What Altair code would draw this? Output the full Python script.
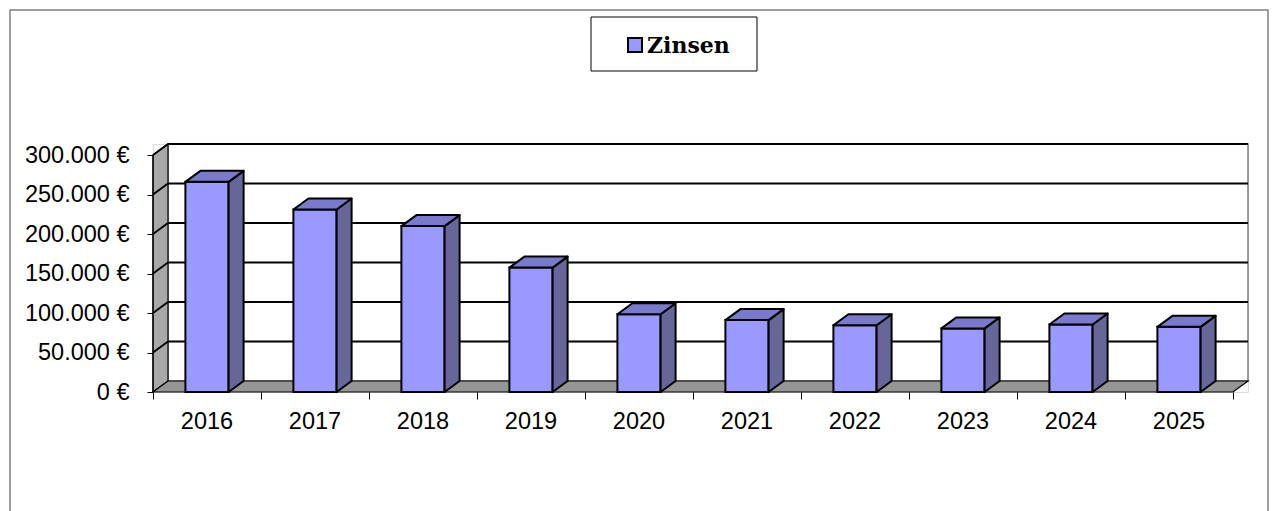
import altair as alt
import pandas as pd

# ---- data ----
years = ["2016", "2017", "2018", "2019", "2020", "2021", "2022", "2023", "2024", "2025"]
zinsen = [266000, 231000, 210000, 157500, 98500, 91000, 84500, 80500, 85500, 82500]
y_ticks = [0, 50000, 100000, 150000, 200000, 250000, 300000]
series_name = "Zinsen"

# ---- style / geometry constants ----
N = len(years)
W, H = 1095, 248
PX_PER_CAT = 108.0
DX = 15 / PX_PER_CAT                 # depth offset in category units
Y_TOP = y_ticks[-1]
YMAX = Y_TOP * H / 237.0
DY = YMAX - Y_TOP                    # depth offset in value units
BAR_L, BAR_R = 0.3, 0.7

FRONT = "#9999ff"
SIDE = "#666699"
TOP = "#7a7acc"
WALL = "#a8a8a8"
FLOOR = "#969696"
FONT = "Liberation Sans"

xs = alt.Scale(domain=[0, N + DX], nice=False, zero=False)
ys = alt.Scale(domain=[0, YMAX], nice=False, zero=False)

x_axis = alt.Axis(values=list(range(N + 1)), labels=False, domain=False, grid=False,
                  ticks=True, tickSize=7, tickColor="black", tickWidth=1, title=None)
y_axis = alt.Axis(values=y_ticks, domain=False, grid=False, tickSize=6, tickColor="black",
                  tickWidth=1, labelPadding=18, labelFontSize=23.5, labelFont=FONT,
                  labelColor="black",
                  labelExpr="replace(format(datum.value, ','), ',', '.') + ' €'",
                  title=None)


def X(f):
    return alt.X(f, type="quantitative", scale=xs, axis=x_axis)


def Y(f):
    return alt.Y(f, type="quantitative", scale=ys, axis=y_axis)


# ---- tables built from the arrays ----
bars = pd.DataFrame({
    "year": years,
    "v": zinsen,
    "x0": [i + BAR_L for i in range(N)],
    "x1": [i + BAR_R for i in range(N)],
    "y0": [0] * N,
})

side_rows, top_rows = [], []
for i, v in enumerate(zinsen):
    side_rows.append({"g": i, "x": i + BAR_R, "lo": 0, "hi": v})
    side_rows.append({"g": i, "x": i + BAR_R + DX, "lo": DY, "hi": v + DY})
    top_rows.append({"g": i, "y": v, "xl": i + BAR_L, "xr": i + BAR_R})
    top_rows.append({"g": i, "y": v + DY, "xl": i + BAR_L + DX, "xr": i + BAR_R + DX})
side = pd.DataFrame(side_rows)
top = pd.DataFrame(top_rows)

back = pd.DataFrame({"x0": [DX], "x1": [N + DX], "y0": [DY], "y1": [Y_TOP + DY]})
wall = pd.DataFrame({"x": [0, DX], "lo": [0, DY], "hi": [Y_TOP, Y_TOP + DY]})
floor = pd.DataFrame({"y": [0, DY], "xl": [0, DX], "xr": [N, N + DX]})
grid = pd.DataFrame({
    "v": y_ticks[1:],
    "vb": [t + DY for t in y_ticks[1:]],
    "x0": [0] * (len(y_ticks) - 1),
    "xd": [DX] * (len(y_ticks) - 1),
    "x1": [N + DX] * (len(y_ticks) - 1),
})
labels = pd.DataFrame({"year": years, "xc": [i + 0.5 for i in range(N)], "z": [0] * N})
one = pd.DataFrame({"k": [0]})

# ---- layers ----
back_wall = alt.Chart(back).mark_rect(fill="white", stroke="#808080", strokeWidth=1.5).encode(
    x=X("x0"), x2="x1", y=Y("y0"), y2="y1")

grid_back = alt.Chart(grid).mark_rule(color="black", strokeWidth=2).encode(
    x=X("xd"), x2="x1", y=Y("vb"))

side_wall = alt.Chart(wall).mark_area(orient="vertical", fill=WALL, stroke="black",
                                      strokeWidth=1.2, opacity=1).encode(
    x=X("x"), y=Y("lo"), y2="hi")

grid_diag = alt.Chart(grid).mark_rule(color="black", strokeWidth=2).encode(
    x=X("x0"), x2="xd", y=Y("v"), y2="vb")

floor_l = alt.Chart(floor).mark_area(orient="horizontal", fill=FLOOR, stroke="black",
                                     strokeWidth=1.2, opacity=1).encode(
    y=Y("y"), x=X("xl"), x2="xr")

axis_line = alt.Chart(one).mark_rule(color="black", strokeWidth=1.2).encode(
    x=X("k"), y=Y("k"), y2=alt.datum(Y_TOP))

bar_front = alt.Chart(bars).mark_rect(fill=FRONT, stroke="black", strokeWidth=2).encode(
    x=X("x0"), x2="x1", y=Y("y0"), y2="v")

bar_side = alt.Chart(side).mark_area(orient="vertical", fill=SIDE, stroke="black",
                                     strokeWidth=2, opacity=1, strokeJoin="round").encode(
    x=X("x"), y=Y("lo"), y2="hi", detail="g:N")

bar_top = alt.Chart(top).mark_area(orient="horizontal", fill=TOP, stroke="black",
                                   strokeWidth=2, opacity=1, strokeJoin="round").encode(
    y=Y("y"), x=X("xl"), x2="xr", detail="g:N")

year_text = alt.Chart(labels).mark_text(font=FONT, fontSize=23.5, color="black",
                                        baseline="alphabetic", align="center", dy=37).encode(
    x=X("xc"), y=Y("z"), text="year:N")

# ---- legend box (decoration) and outer frame ----
frame = alt.Chart(one).mark_rect(fill=None, stroke="#7f7f7f", strokeWidth=1.5).encode(
    x=alt.value(-143), x2=alt.value(1115), y=alt.value(-134), y2=alt.value(460))

legend_box = alt.Chart(one).mark_rect(fill="white", stroke="black", strokeWidth=1).encode(
    x=alt.value(438), x2=alt.value(604), y=alt.value(-127), y2=alt.value(-73))

legend_sym = alt.Chart(one).mark_rect(fill=FRONT, stroke="black", strokeWidth=2).encode(
    x=alt.value(475), x2=alt.value(489), y=alt.value(-106), y2=alt.value(-92))

legend_txt = alt.Chart(pd.DataFrame({"t": [series_name]})).mark_text(
    font="DejaVu Serif", fontSize=22, fontWeight="bold", color="black",
    align="left", baseline="alphabetic").encode(
    x=alt.value(494), y=alt.value(-91), text="t:N")

chart = alt.layer(
    frame, back_wall, grid_back, side_wall, grid_diag, floor_l, axis_line,
    bar_front, bar_side, bar_top, year_text, legend_box, legend_sym, legend_txt
).properties(
    width=W, height=H,
    autosize=alt.AutoSizeParams(type="none"),
    padding={"left": 145, "top": 136, "right": 22, "bottom": 119},
).configure_view(stroke=None).configure(background="white")

chart.save("out.html", embed_options={"renderer": "svg", "actions": False})
